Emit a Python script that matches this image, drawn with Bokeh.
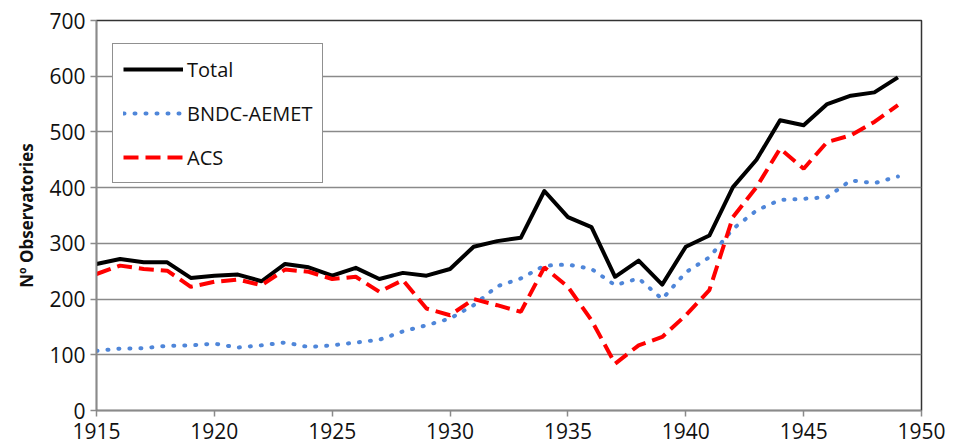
from bokeh.plotting import figure
from bokeh.models import Range1d, FixedTicker, Legend, LegendItem
from bokeh.embed import file_html
from bokeh.resources import INLINE

years = list(range(1915, 1950))
total = [263, 272, 266, 266, 238, 242, 244, 232, 263, 257, 242, 256, 236, 247, 242, 254,
         294, 304, 310, 394, 347, 329, 240, 269, 226, 294, 314, 401, 450, 521, 512, 550,
         565, 571, 598]
bndc = [107, 111, 112, 116, 117, 120, 113, 117, 122, 114, 117, 122, 127, 142, 153, 165,
        189, 223, 237, 260, 262, 254, 225, 237, 200, 248, 275, 326, 359, 378, 380, 383,
        413, 408, 420]
acs = [245, 260, 254, 251, 222, 231, 235, 225, 253, 249, 236, 240, 213, 234, 183, 171,
       200, 189, 177, 257, 222, 162, 84, 117, 132, 171, 216, 347, 401, 470, 434, 482,
       494, 518, 548]

x_ticks = [1915, 1920, 1925, 1930, 1935, 1940, 1945, 1950]
y_ticks = [0, 100, 200, 300, 400, 500, 600, 700]

FONT = "Open Sans"

p = figure(width=955, height=447, output_backend="svg", toolbar_location=None,
           x_range=Range1d(1915, 1950), y_range=Range1d(0, 700),
           min_border_left=96, min_border_right=34, min_border_top=20, min_border_bottom=37)
p.background_fill_color = "white"
p.border_fill_color = "white"
p.outline_line_color = "#333333"
p.outline_line_width = 1.5

p.xaxis.ticker = FixedTicker(ticks=x_ticks)
p.yaxis.ticker = FixedTicker(ticks=y_ticks)
p.xgrid.grid_line_color = None
p.ygrid.grid_line_color = "#8a8a8a"
p.ygrid.grid_line_width = 1.5

for ax in (p.xaxis, p.yaxis):
    ax.axis_line_color = "#8a8a8a"
    ax.axis_line_width = 1.5
    ax.major_tick_line_color = "#8a8a8a"
    ax.major_tick_line_width = 1.5
    ax.major_tick_in = 0
    ax.major_tick_out = 6
    ax.minor_tick_line_color = None
    ax.major_label_text_font = FONT
    ax.major_label_text_font_size = "21px"
    ax.major_label_text_color = "#111111"

p.xaxis.major_label_standoff = 6
p.yaxis.major_label_standoff = 5
p.yaxis.axis_label = "Nº Observatories"
p.yaxis.axis_label_text_font = FONT
p.yaxis.axis_label_text_font_size = "17px"
p.yaxis.axis_label_text_font_style = "bold"
p.yaxis.axis_label_text_color = "#111111"
p.yaxis.axis_label_standoff = 8

r_total = p.line(years, total, line_color="black", line_width=4, line_join="round")
r_bndc = p.line(years, bndc, line_color="#4f86d9", line_width=4, line_dash="1 10",
                line_cap="round")
r_acs = p.line(years, acs, line_color="#ff0000", line_width=4, line_dash="15 7")

legend = Legend(items=[LegendItem(label="Total", renderers=[r_total]),
                       LegendItem(label="BNDC-AEMET", renderers=[r_bndc]),
                       LegendItem(label="ACS", renderers=[r_acs])],
                location=(16, 227))
legend.border_line_color = "#222222"
legend.border_line_width = 1.5
legend.background_fill_alpha = 1
legend.label_text_font = FONT
legend.label_text_font_size = "20px"
legend.label_text_color = "#111111"
legend.glyph_width = 60
legend.glyph_height = 30
legend.label_height = 30
legend.label_standoff = 4
legend.spacing = 14
legend.padding = 10
legend.margin = 0
p.add_layout(legend, "center")

open("out.html", "w").write(file_html(p, INLINE))
